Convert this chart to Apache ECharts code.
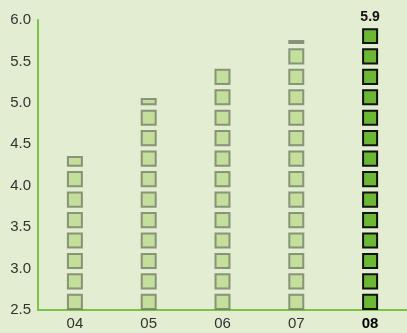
<!DOCTYPE html>
<html><head><meta charset="utf-8">
<script src="https://cdn.jsdelivr.net/npm/echarts@6/dist/echarts.min.js"></script>
<style>html,body{margin:0;padding:0;background:#e3edd1;}#c{width:407px;height:333px;}</style>
</head><body><div id="c"></div>
<script>
var categories = ['04', '05', '06', '07', '08'];
var values = [4.36, 5.06, 5.43, 5.76, 5.9];
var yTicks = [2.5, 3.0, 3.5, 4.0, 4.5, 5.0, 5.5, 6.0];
var yMin = 2.5, yMax = 6.0, yStep = 0.5;
var slot = 0.247; // value span of one square slot

var chart = echarts.init(document.getElementById('c'));
var last = categories.length - 1;
chart.setOption({
  backgroundColor: '#e3edd1',
  animation: false,
  grid: {left: 38, right: 0, top: 20, bottom: 23},
  xAxis: {
    type: 'category', data: categories,
    axisLine: {lineStyle: {color: '#7cc242', width: 2}},
    axisTick: {show: false},
    axisLabel: {
      fontFamily: 'Liberation Sans', fontSize: 15, color: '#333', margin: 6,
      formatter: function (v, i) { return i === last ? '{b|' + v + '}' : v; },
      rich: {b: {fontWeight: 'bold', color: '#000', fontSize: 15, fontFamily: 'Liberation Sans'}}
    }
  },
  yAxis: {
    type: 'value', min: yMin, max: yMax, interval: yStep,
    axisLine: {show: true, lineStyle: {color: '#7cc242', width: 2}},
    axisTick: {show: false},
    splitLine: {show: false},
    axisLabel: {fontFamily: 'Liberation Sans', fontSize: 15, color: '#333', margin: 7,
      formatter: function (v) { return v.toFixed(1); }}
  },
  series: [{
    type: 'custom',
    data: values.map(function (v, i) { return [i, v]; }),
    renderItem: function (params, api) {
      var cat = api.value(0), v = api.value(1);
      var hi = params.dataIndex === last;
      var children = [];
      for (var k = 0; yMin + k * slot < v - 0.005; k++) {
        var b = yMin + k * slot;
        var t = Math.min(b + slot * 0.79, v);
        var p0 = api.coord([cat, b]);
        var p1 = api.coord([cat, t]);
        var h = p0[1] - p1[1];
        children.push({
          type: 'rect',
          shape: {x: p0[0] - 7, y: p1[1] + 1, width: 14, height: Math.max(h - 2, 0.5)},
          style: {
            fill: hi ? '#6cb834' : '#c4de9b',
            stroke: hi ? '#111' : 'rgba(110,120,100,0.75)',
            lineWidth: 2
          }
        });
      }
      if (hi) {
        var pt = api.coord([cat, v]);
        children.push({
          type: 'text',
          style: {text: v.toFixed(1), x: pt[0], y: pt[1] - 4, textAlign: 'center', textVerticalAlign: 'bottom',
            font: 'bold 14px "Liberation Sans"', fill: '#111'}
        });
      }
      return {type: 'group', children: children};
    }
  }]
});
</script></body></html>
